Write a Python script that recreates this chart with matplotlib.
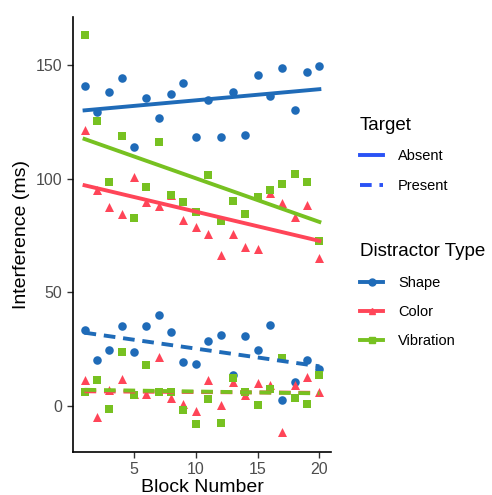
import numpy as np
import matplotlib
matplotlib.use("Agg")
import matplotlib.pyplot as plt
from matplotlib.lines import Line2D

plt.rcParams['font.family'] = ['Liberation Sans', 'DejaVu Sans']

blocks = np.arange(1, 21)

# interference (ms) per block, target absent
shape_absent = [140.6, 129.4, 138.1, 144.0, 113.7, 135.3, 126.4, 137.2, 141.8, 118.3,
                134.4, 118.1, 138.0, 119.3, 145.6, 136.2, 148.7, 130.3, 146.8, 149.6]
color_absent = [121.5, 95.1, 87.7, 84.5, 100.7, 89.5, 88.0, 92.6, 82.0, 78.9,
                75.6, 66.3, 75.6, 70.1, 69.2, 93.5, 89.1, 83.3, 88.5, 65.3]
vibration_absent = [163.2, 125.3, 98.6, 118.9, 82.5, 96.1, 116.2, 93.0, 89.5, 85.2,
                    101.4, 81.3, 90.1, 84.5, 92.0, 95.1, 97.4, 102.0, 98.3, 72.8]

# interference (ms) per block, target present
shape_present = [33.4, 20.3, 24.6, 35.3, 23.7, 35.5, 40.3, 32.5, 19.6, 18.6,
                 28.7, 31.4, 13.9, 31.1, 24.6, 35.9, 2.9, 10.5, 20.2, 16.4]
color_present = [11.4, -4.5, 7.0, 11.8, 5.5, 5.5, 21.5, 3.6, 1.2, -2.1,
                 11.4, 0.7, 10.5, 5.1, 10.4, 9.2, -11.1, 9.2, 13.1, 6.2]
vibration_present = [6.5, 11.5, -1.0, 23.7, 4.8, 18.3, 6.5, 6.5, -1.7, -7.7,
                     3.3, -7.4, 12.4, 6.2, 0.7, 7.6, 21.1, 3.6, 1.0, 13.9]

distractors = ["Shape", "Color", "Vibration"]
colors = {"Shape": "#1F6BB8", "Color": "#FF4558", "Vibration": "#77C121"}
markers = {"Shape": "o", "Color": "^", "Vibration": "s"}
sizes = {"Shape": 38, "Color": 42, "Vibration": 34}
series = {
    ("Shape", "Absent"): shape_absent,
    ("Color", "Absent"): color_absent,
    ("Vibration", "Absent"): vibration_absent,
    ("Shape", "Present"): shape_present,
    ("Color", "Present"): color_present,
    ("Vibration", "Present"): vibration_present,
}
linestyles = {"Absent": "-", "Present": (0, (3.0, 2.0))}

fig = plt.figure(figsize=(4.92, 4.95), dpi=100)
ax = fig.add_axes([0.148, 0.087, 0.525, 0.879])

for (dist, target), vals in series.items():
    vals = np.array(vals)
    ax.scatter(blocks, vals, marker=markers[dist], s=sizes[dist], color=colors[dist],
               linewidths=0, zorder=2)
    slope, icpt = np.polyfit(blocks, vals, 1)
    ax.plot(blocks, icpt + slope * blocks, color=colors[dist],
            linestyle=linestyles[target], linewidth=2.8, zorder=3)

ax.set_xlim(0.05, 20.95)
ax.set_ylim(-20, 171)
ax.set_xticks([5, 10, 15, 20])
ax.set_yticks([0, 50, 100, 150])
for side in ["top", "right"]:
    ax.spines[side].set_visible(False)
for side in ["left", "bottom"]:
    ax.spines[side].set_linewidth(1.2)
ax.tick_params(labelsize=11.5, labelcolor="#4D4D4D", length=4, width=1.0, color="#333333")
ax.set_xlabel("Block Number", fontsize=14, labelpad=1)
ax.set_ylabel("Interference (ms)", fontsize=14, labelpad=4)

target_handles = [Line2D([], [], color="#2A52F5", lw=2.8, linestyle=linestyles[t])
                  for t in ["Absent", "Present"]]
leg1 = fig.legend(target_handles, ["Absent", "Present"], title="Target",
                  loc="upper left", bbox_to_anchor=(0.705, 0.79), frameon=False,
                  fontsize=10.5, title_fontsize=13.5, handlelength=1.6,
                  labelspacing=1.05, handletextpad=1.0, alignment="left")

dist_handles = [Line2D([], [], color=colors[d], lw=2.8, marker=markers[d], markersize=5)
                for d in distractors]
leg2 = fig.legend(dist_handles, distractors, title="Distractor Type",
                  loc="upper left", bbox_to_anchor=(0.705, 0.535), frameon=False,
                  fontsize=10.5, title_fontsize=13.5, handlelength=1.6,
                  labelspacing=1.05, handletextpad=1.0, alignment="left")

fig.savefig("out.png", dpi=100)
